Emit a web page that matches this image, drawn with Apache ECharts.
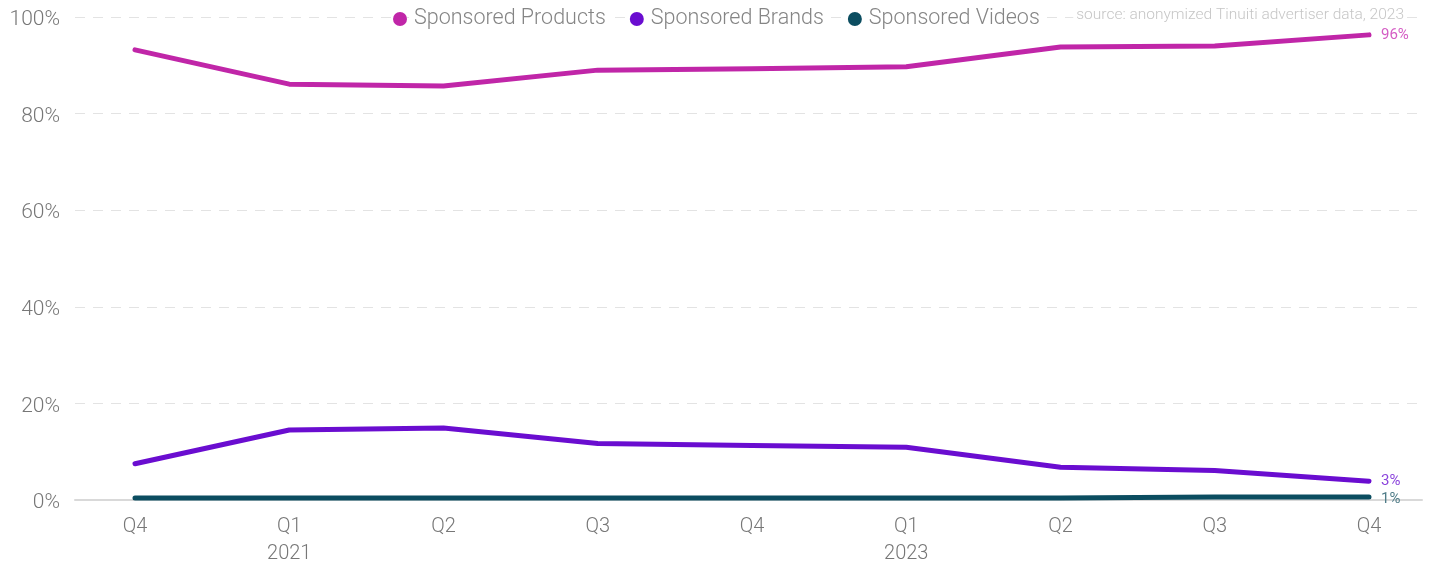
<!DOCTYPE html>
<html><head><meta charset="utf-8">
<script src="https://cdn.jsdelivr.net/npm/echarts@6/dist/echarts.min.js"></script>
<style>html,body{margin:0;padding:0;background:#fff}#c{width:1439px;height:561px}</style>
</head><body><div id="c"></div>
<script>
var categories = ['Q4', 'Q1\n2021', 'Q2', 'Q3', 'Q4', 'Q1\n2023', 'Q2', 'Q3', 'Q4'];
var sponsoredProducts = [93.2, 86.1, 85.7, 89.0, 89.3, 89.7, 93.8, 94.0, 96.3];
var sponsoredBrands = [7.5, 14.5, 14.9, 11.7, 11.3, 10.9, 6.8, 6.1, 3.9];
var sponsoredVideos = [0.4, 0.4, 0.4, 0.4, 0.4, 0.4, 0.4, 0.6, 0.6];
var endLabels = ['96%', '3%', '1%'];
var yTicks = [0, 20, 40, 60, 80, 100];

var font = 'Roboto, "Noto Sans", sans-serif';
var colors = ['#c026a8', '#6a0dd0', '#0b4d60'];
var labelColors = ['#d45cc4', '#8c45dc', '#4f7c88'];
var chart = echarts.init(document.getElementById('c'));

function mk(name, data, i) {
  return {
    name: name, type: 'line', data: data, xAxisIndex: 1, yAxisIndex: 1,
    symbol: 'none', lineStyle: { width: 5, color: colors[i], cap: 'round', join: 'round' },
    itemStyle: { color: colors[i] },
    endLabel: { show: true, formatter: endLabels[i], color: labelColors[i], fontFamily: font, fontSize: 15, distance: 12, offset: i === 2 ? [0, 2] : [0, 0] },
    emphasis: { disabled: true }
  };
}

chart.setOption({
  animation: false,
  color: colors,
  textStyle: { fontFamily: font },
  legend: {
    top: 3, left: 388, itemGap: 22, itemWidth: 14, itemHeight: 14, icon: 'circle',
    data: ['Sponsored Products', 'Sponsored Brands', 'Sponsored Videos'],
    textStyle: { fontFamily: font, fontSize: 21.5, color: '#858585', fontWeight: 300, backgroundColor: '#fff', padding: [0, 2] }
  },
  graphic: [{
    type: 'text', right: 32, top: 7, z: 100,
    style: { text: 'source: anonymized Tinuiti advertiser data, 2023', fill: '#c6c6c6', font: '300 15.5px Roboto, sans-serif', backgroundColor: '#fff', padding: [0, 3] }
  }],
  grid: [
    { left: 75, right: 17, top: 17, bottom: 61, outerBoundsMode: 'none', containLabel: false },
    { left: 135, right: 70, top: 17, bottom: 61, outerBoundsMode: 'none', containLabel: false }
  ],
  xAxis: [
    { type: 'value', gridIndex: 0, min: 0, max: 1, show: true,
      axisLine: { show: true, lineStyle: { color: '#d9d9d9', width: 2 } },
      axisTick: { show: false }, axisLabel: { show: false }, splitLine: { show: false } },
    { type: 'category', gridIndex: 1, data: categories, boundaryGap: false,
      axisLine: { show: false }, axisTick: { show: false },
      axisLabel: { color: '#777', fontSize: 20, fontFamily: font, fontWeight: 300, lineHeight: 27, margin: 13 } }
  ],
  yAxis: [
    { type: 'value', gridIndex: 0, min: 0, max: 100, interval: 20,
      axisLine: { show: false }, axisTick: { show: false },
      axisLabel: {
        formatter: function (v) { return yTicks.indexOf(v) >= 0 ? '{a|' + v + '%}' : ''; },
        margin: 15,
        rich: { a: { color: '#777', fontSize: 21, fontFamily: font, fontWeight: 300, padding: [6, 0, 0, 0] } }
      },
      splitLine: { show: true, lineStyle: { color: '#e3e3e3', type: [10, 8], width: 1 } } },
    { type: 'value', gridIndex: 1, min: 0, max: 100, interval: 20, show: false, splitLine: { show: false } }
  ],
  series: [
    mk('Sponsored Products', sponsoredProducts, 0),
    mk('Sponsored Brands', sponsoredBrands, 1),
    mk('Sponsored Videos', sponsoredVideos, 2)
  ]
});
</script></body></html>
